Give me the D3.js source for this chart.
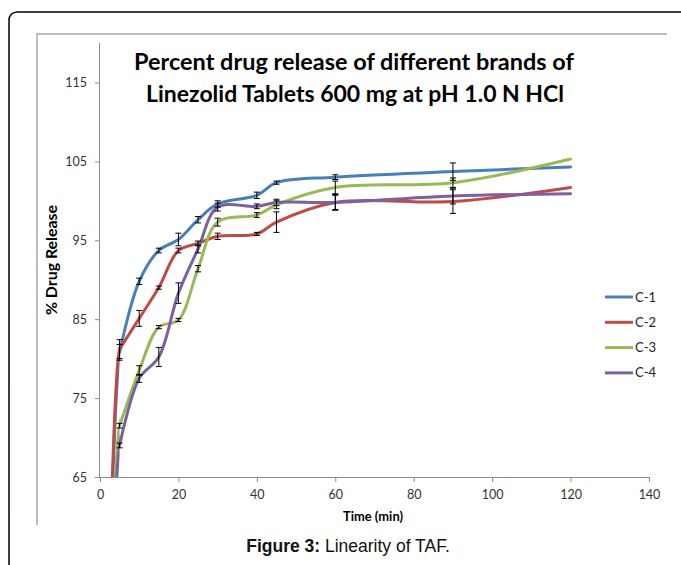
<!DOCTYPE html>
<html>
<head>
<meta charset="utf-8">
<script src="https://cdn.jsdelivr.net/npm/d3@7"></script>
<style>
    body { margin: 0; background: #fff; }
    svg { display: block; }
    .tick text { fill: #333; }
</style>
</head>
<body>
<script>
// Data, t = 0 point sits below the axis and gets clipped
const times = [0, 5, 10, 15, 20, 25, 30, 40, 45, 60, 90, 120];
const c1 = [0, 80.8, 89.8, 93.7, 95.1, 97.6, 99.6, 100.7, 102.3, 103.0, 103.7, 104.3];
const c2 = [0, 81.2, 85.1, 89.0, 93.7, 94.6, 95.5, 95.8, 97.3, 99.8, 99.9, 101.7];
const c3 = [0, 71.5, 78.5, 84.0, 84.9, 91.4, 97.3, 98.2, 99.5, 101.7, 102.3, 105.3];
const c4 = [0, 69.0, 77.5, 80.2, 88.3, 93.9, 99.2, 99.3, 99.8, 99.8, 100.6, 100.9];
const e1 = [0, 1.0, 0.4, 0.3, 0.8, 0.4, 0.4, 0.4, 0.2, 0.3, 1.1, 0];
const e2 = [0, 1.2, 1.0, 0.2, 0.3, 0.3, 0.4, 0.2, 1.3, 1.0, 1.5, 0];
const e3 = [0, 0.3, 0.6, 0.2, 0.2, 0.4, 0.5, 0.3, 0.5, 0.8, 0.6, 0];
const e4 = [0, 0.3, 0.5, 1.2, 1.3, 0.5, 0.5, 0.3, 0.4, 0.9, 1.0, 0];
const seriesNames = ['C-1', 'C-2', 'C-3', 'C-4'];
const xTicks = [0, 20, 40, 60, 80, 100, 120, 140];
const yTicks = [65, 75, 85, 95, 105, 115];

const colors = ['#4a7ebb', '#be4b48', '#98b954', '#7d60a0'];
const series = [c1, c2, c3, c4].map((vals, i) => ({
    name: seriesNames[i],
    color: colors[i],
    points: times.map((t, j) => ({ t: t, v: vals[j], e: [e1, e2, e3, e4][i][j] }))
}));

const width = 681, height = 565;
const font = 'Lato, "Open Sans", sans-serif';

const x = d3.scaleLinear().domain([0, 140]).range([100, 649]);
const y = d3.scaleLinear().domain([65, 120]).range([477, 43]);

let svg = d3.select('body').append('svg')
    .attr('width', width)
    .attr('height', height);

// fit a text element to a target width by scaling font size
function fitText(sel, w) {
    const cur = sel.node().getComputedTextLength();
    const fs = parseFloat(sel.attr('font-size'));
    sel.attr('font-size', (fs * w / cur).toFixed(2));
}

// Outer page frame (rounded, runs off the right/bottom)
svg.append('rect')
    .attr('x', 9).attr('y', 12)
    .attr('width', 720).attr('height', 600)
    .attr('rx', 8)
    .attr('fill', 'none')
    .attr('stroke', '#000')
    .attr('stroke-width', 1.5);

// Chart area border (top + left only are visible)
svg.append('path')
    .attr('d', 'M37,525V34H667')
    .attr('fill', 'none')
    .attr('stroke', '#bdbdbd')
    .attr('stroke-width', 2);

// Clips: whole plot area, and the rise segment (before first sample)
let defs = svg.append('defs');
defs.append('clipPath').attr('id', 'plot')
    .append('rect')
    .attr('x', x(0)).attr('y', y(120))
    .attr('width', x(140) - x(0)).attr('height', y(65) - y(120));
defs.append('clipPath').attr('id', 'rise')
    .append('rect')
    .attr('x', x(0)).attr('y', y(120))
    .attr('width', x(times[1]) - x(0)).attr('height', y(65) - y(120));

// Y axis
let yAxis = svg.append('g')
    .attr('transform', `translate(${x(0)},0)`)
    .call(d3.axisLeft(y).tickValues(yTicks).tickSize(5).tickPadding(8));
yAxis.select('.domain').attr('d', `M-0.5,${y(120)}V${y(65)}`);

// X axis
let xAxis = svg.append('g')
    .attr('transform', `translate(0,${y(65)})`)
    .call(d3.axisBottom(x).tickValues(xTicks).tickSize(5).tickPadding(8));
xAxis.select('.domain').attr('d', `M${x(0)},0.5H${x(140)}`);

[yAxis, xAxis].forEach(a => {
    a.selectAll('.domain, .tick line').attr('stroke', '#8c8c8c');
    a.selectAll('.tick text').attr('font-family', font).attr('font-size', 12.5);
});

// Lines: steep rise from t=0 drawn monotone, rest smoothed
let riseLine = d3.line()
    .x(d => x(d.t))
    .y(d => y(d.v))
    .curve(d3.curveMonotoneX);

let line = d3.line()
    .x(d => x(d.t))
    .y(d => y(d.v))
    .curve(d3.curveCatmullRom.alpha(0.5));

let plot = svg.append('g').attr('clip-path', 'url(#plot)');

let seriesG = plot.selectAll('g.series')
    .data(series)
    .enter()
    .append('g')
    .attr('class', 'series')
    .attr('fill', 'none')
    .attr('stroke', d => d.color)
    .attr('stroke-width', 3);

seriesG.append('path')
    .attr('clip-path', 'url(#rise)')
    .attr('d', d => riseLine(d.points.slice(0, 3)));
seriesG.append('path')
    .attr('stroke-linecap', 'round')
    .attr('d', d => line(d.points.slice(1)));

// Error bars
let bars = plot.selectAll('g.err')
    .data(series.flatMap(s => s.points.filter(p => p.e > 0)))
    .enter()
    .append('g')
    .attr('class', 'err')
    .attr('stroke', '#000')
    .attr('stroke-width', 1);

bars.append('line')
    .attr('x1', d => x(d.t)).attr('x2', d => x(d.t))
    .attr('y1', d => y(d.v + d.e)).attr('y2', d => y(d.v - d.e));
bars.append('line')
    .attr('x1', d => x(d.t) - 3).attr('x2', d => x(d.t) + 3)
    .attr('y1', d => y(d.v + d.e)).attr('y2', d => y(d.v + d.e));
bars.append('line')
    .attr('x1', d => x(d.t) - 3).attr('x2', d => x(d.t) + 3)
    .attr('y1', d => y(d.v - d.e)).attr('y2', d => y(d.v - d.e));

// Title
let t1 = svg.append('text')
    .attr('x', 354).attr('y', 70)
    .attr('text-anchor', 'middle')
    .attr('font-family', font).attr('font-weight', 'bold').attr('font-size', 21)
    .text('Percent drug release of different brands of');
fitText(t1, 440);
let t2 = svg.append('text')
    .attr('x', 355).attr('y', 102)
    .attr('text-anchor', 'middle')
    .attr('font-family', font).attr('font-weight', 'bold').attr('font-size', 21)
    .text('Linezolid Tablets 600 mg at pH 1.0 N HCl');
fitText(t2, 418);

// Axis titles
let yLabel = svg.append('text')
    .attr('transform', 'translate(57,260) rotate(-90)')
    .attr('text-anchor', 'middle')
    .attr('font-family', font).attr('font-weight', 'bold').attr('font-size', 13)
    .text('% Drug Release');
fitText(yLabel, 110);

let xLabel = svg.append('text')
    .attr('x', 373).attr('y', 521)
    .attr('text-anchor', 'middle')
    .attr('font-family', font).attr('font-weight', 'bold').attr('font-size', 11)
    .text('Time (min)');
fitText(xLabel, 60);

// Legend
let legend = svg.selectAll('g.legend')
    .data(series)
    .enter()
    .append('g')
    .attr('class', 'legend')
    .attr('transform', (d, i) => `translate(605,${297 + i * 25.3})`);

legend.append('line')
    .attr('x1', 0).attr('x2', 28)
    .attr('stroke', d => d.color)
    .attr('stroke-width', 3);
legend.append('text')
    .attr('x', 30).attr('dy', '0.35em')
    .attr('font-family', font).attr('font-size', 13)
    .attr('fill', '#222')
    .text(d => d.name);

// Figure caption
let caption = svg.append('text')
    .attr('x', 348).attr('y', 552)
    .attr('text-anchor', 'middle')
    .attr('font-family', '"Liberation Sans", Arial, sans-serif')
    .attr('font-size', 17.5)
    .attr('fill', '#111');
caption.append('tspan').attr('font-weight', 'bold').text('Figure 3:');
caption.append('tspan').text(' Linearity of TAF.');
</script>
</body>
</html>
